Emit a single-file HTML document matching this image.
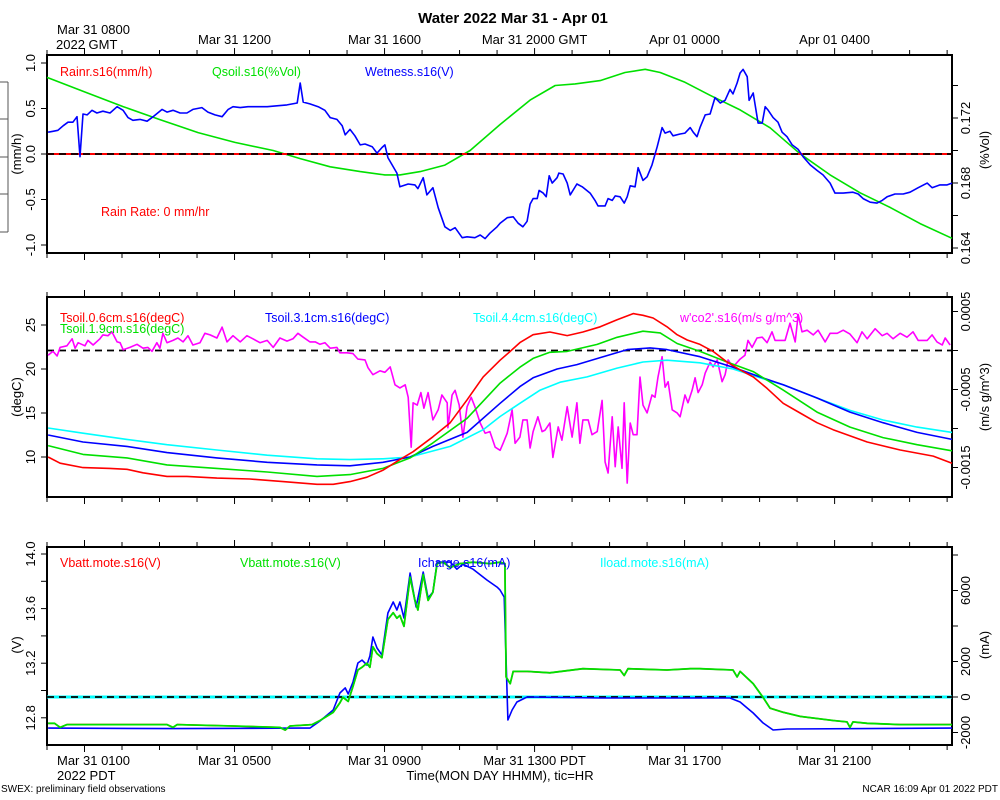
<!DOCTYPE html>
<html><head><meta charset="utf-8"><title>Water 2022 Mar 31 - Apr 01</title>
<style>
html,body{margin:0;padding:0;background:#fff;}
svg{display:block;font-family:"Liberation Sans",sans-serif;}
</style></head>
<body>
<svg id="chart" width="1000" height="800" viewBox="0 0 1000 800" xmlns="http://www.w3.org/2000/svg"></svg>
<script>
// ---------- time axis ----------
const tickHours = [1,5,9,13,17,21];
const topTickLabels = ["Mar 31 0800","Mar 31 1200","Mar 31 1600","Mar 31 2000 GMT","Apr 01 0000","Apr 01 0400"];
const bottomTickLabels = ["Mar 31 0100","Mar 31 0500","Mar 31 0900","Mar 31 1300 PDT","Mar 31 1700","Mar 31 2100"];
const hourMax = 24.13;

// ---------- panel 1 ----------
const p1LeftTicks = [1.0,0.5,0.0,-0.5,-1.0];
const p1LeftLabels = ["1.0","0.5","0.0","-0.5","-1.0"];
const p1RightTicks = [0.174,0.172,0.170,0.168,0.166,0.164];
const p1RightLabels = ["","0.172","","0.168","","0.164"];
const rainRate = [[0,0],[24.13,0]];
const qsoil = [[0,0.1745],[1.01,0.1736],[2.03,0.1727],[3.01,0.1719],[4.03,0.1711],[5.01,0.1705],[6.03,0.1700],[6.75,0.1695],[7.55,0.1690],[8.35,0.1687],[9.01,0.1685],[9.41,0.1685],[9.95,0.1687],[10.61,0.1691],[11.28,0.1700],[12.08,0.1716],[12.88,0.1731],[13.55,0.1740],[14.08,0.1741],[14.75,0.1743],[15.41,0.1748],[15.95,0.1750],[16.35,0.1748],[17.01,0.1742],[17.68,0.1734],[18.48,0.1725],[19.28,0.1714],[20.08,0.1698],[20.88,0.1685],[21.68,0.1674],[22.48,0.1665],[23.28,0.1655],[24.13,0.1646]];
const wetness = [[0.03,0.24],[0.16,0.25],[0.29,0.26],[0.43,0.31],[0.56,0.35],[0.69,0.35],[0.8,0.41],[0.88,-0.03],[0.96,0.44],[1.07,0.43],[1.2,0.48],[1.33,0.45],[1.49,0.47],[1.68,0.45],[1.87,0.52],[2.03,0.48],[2.16,0.40],[2.29,0.37],[2.48,0.38],[2.67,0.36],[2.83,0.41],[3.07,0.49],[3.2,0.46],[3.36,0.48],[3.55,0.45],[3.73,0.45],[3.89,0.49],[4.13,0.51],[4.29,0.46],[4.48,0.43],[4.67,0.41],[4.83,0.49],[4.96,0.52],[5.15,0.51],[5.36,0.52],[5.6,0.52],[5.87,0.52],[6.13,0.53],[6.4,0.54],[6.67,0.56],[6.75,0.78],[6.83,0.57],[7.01,0.55],[7.23,0.52],[7.41,0.48],[7.55,0.40],[7.73,0.38],[7.87,0.31],[7.95,0.21],[8.08,0.27],[8.21,0.20],[8.35,0.10],[8.48,0.11],[8.67,0.08],[8.8,0.01],[8.93,0.07],[9.01,0.10],[9.09,-0.04],[9.33,-0.21],[9.41,-0.36],[9.63,-0.33],[9.81,-0.34],[9.89,-0.38],[10.03,-0.26],[10.13,-0.45],[10.29,-0.37],[10.43,-0.59],[10.61,-0.80],[10.75,-0.84],[10.88,-0.81],[11.07,-0.92],[11.2,-0.91],[11.41,-0.92],[11.55,-0.89],[11.68,-0.93],[11.81,-0.87],[12.0,-0.80],[12.08,-0.76],[12.27,-0.70],[12.43,-0.69],[12.56,-0.76],[12.69,-0.80],[12.8,-0.74],[12.88,-0.55],[12.96,-0.49],[13.07,-0.49],[13.12,-0.40],[13.23,-0.43],[13.31,-0.47],[13.39,-0.24],[13.47,-0.32],[13.6,-0.26],[13.65,-0.21],[13.76,-0.22],[13.87,-0.32],[13.95,-0.45],[14.13,-0.33],[14.27,-0.36],[14.48,-0.43],[14.61,-0.51],[14.69,-0.57],[14.88,-0.57],[14.96,-0.49],[15.07,-0.51],[15.15,-0.46],[15.28,-0.47],[15.39,-0.54],[15.47,-0.47],[15.55,-0.35],[15.68,-0.36],[15.76,-0.15],[15.89,-0.29],[16.0,-0.25],[16.13,-0.12],[16.27,0.08],[16.4,0.29],[16.48,0.23],[16.61,0.25],[16.69,0.20],[16.88,0.22],[17.01,0.23],[17.15,0.29],[17.23,0.24],[17.33,0.19],[17.41,0.29],[17.55,0.43],[17.68,0.44],[17.81,0.62],[17.95,0.56],[18.08,0.59],[18.21,0.71],[18.29,0.66],[18.4,0.78],[18.48,0.89],[18.56,0.93],[18.67,0.85],[18.72,0.59],[18.83,0.67],[18.96,0.34],[19.07,0.34],[19.15,0.52],[19.23,0.48],[19.36,0.40],[19.49,0.35],[19.6,0.24],[19.73,0.19],[19.87,0.10],[20.03,0.05],[20.16,-0.03],[20.35,-0.12],[20.53,-0.18],[20.69,-0.23],[20.88,-0.32],[21.01,-0.43],[21.23,-0.43],[21.49,-0.42],[21.63,-0.44],[21.76,-0.49],[21.95,-0.53],[22.13,-0.54],[22.27,-0.51],[22.4,-0.47],[22.61,-0.44],[22.83,-0.44],[23.01,-0.42],[23.23,-0.37],[23.47,-0.32],[23.6,-0.37],[23.81,-0.34],[24.0,-0.34],[24.13,-0.32]];

// ---------- panel 2 ----------
const p2LeftTicks = [25,20,15,10];
const p2LeftLabels = ["25","20","15","10"];
const p2RightTicks = [0.0005,0,-0.0005,-0.001,-0.0015];
const p2RightLabels = ["0.0005","","-0.0005","","-0.0015"];
const tsoil06 = [[0.03,10.0],[0.35,9.3],[0.96,8.8],[1.68,8.7],[2.13,8.6],[2.56,8.2],[3.2,7.8],[3.73,7.8],[4.53,7.6],[5.41,7.5],[6.29,7.2],[7.2,6.9],[7.63,6.9],[8.08,7.2],[8.53,7.7],[8.96,8.5],[9.41,9.7],[9.76,10.6],[10.29,12.3],[10.75,13.9],[11.2,16.5],[11.63,19.1],[12.08,21.0],[12.35,22.0],[12.61,23.0],[12.96,23.9],[13.41,24.2],[13.87,23.8],[14.29,24.2],[14.75,24.8],[15.2,25.6],[15.63,26.3],[15.89,26.1],[16.16,25.8],[16.53,24.8],[16.8,23.9],[17.07,23.3],[17.41,22.8],[17.76,22.0],[18.13,20.8],[18.48,19.9],[18.83,19.1],[19.2,17.8],[19.63,16.1],[20.08,15.0],[20.53,13.9],[20.96,13.1],[21.87,11.7],[22.75,10.8],[23.63,10.1],[24.13,9.3]];
const tsoil19 = [[0.03,11.3],[0.96,10.3],[2.13,9.9],[3.2,9.1],[4.53,8.7],[5.87,8.3],[7.2,7.8],[8.08,8.0],[8.96,8.7],[9.68,9.9],[10.29,11.6],[11.2,14.4],[12.08,18.4],[12.61,20.2],[12.96,21.2],[13.41,21.9],[13.87,22.0],[14.67,22.8],[15.2,23.6],[15.89,24.3],[16.35,24.1],[16.8,22.9],[17.41,22.0],[18.13,20.8],[18.83,19.7],[19.63,17.6],[20.53,15.1],[21.41,13.4],[22.29,12.2],[23.2,11.4],[24.13,10.7]];
const tsoil31 = [[0.03,12.5],[0.96,11.7],[2.13,11.2],[3.2,10.5],[4.53,9.9],[5.87,9.4],[7.2,9.1],[8.08,9.0],[8.96,9.4],[9.68,10.0],[10.29,11.2],[11.2,12.8],[12.08,16.1],[12.61,18.0],[12.96,19.0],[13.6,20.0],[14.13,20.5],[14.75,21.3],[15.47,22.2],[16.08,22.4],[16.53,22.2],[17.41,21.4],[18.29,20.2],[19.01,19.1],[19.63,18.2],[20.53,16.7],[21.41,15.1],[22.29,13.9],[23.2,12.8],[24.13,12.0]];
const tsoil44 = [[0.03,13.3],[0.96,12.7],[2.13,12.0],[3.2,11.4],[4.53,10.8],[5.87,10.2],[7.2,9.8],[8.08,9.7],[8.96,9.8],[9.68,10.0],[10.75,11.2],[11.63,13.1],[12.08,14.6],[12.61,16.1],[13.15,17.6],[13.68,18.5],[14.4,19.1],[15.2,20.1],[15.89,20.8],[16.53,21.0],[17.41,20.7],[18.29,20.0],[19.01,19.0],[19.63,18.2],[20.53,16.7],[21.41,15.3],[22.29,14.2],[23.2,13.4],[24.13,12.8]];
// w'co2' values in units of 1e-4 m/s g/m^3
const co2e4 = [[0.03,-0.6],[0.16,-0.1],[0.27,-0.7],[0.35,0.4],[0.53,0.6],[0.67,1.5],[0.75,0.3],[0.83,1.0],[1.01,0.6],[1.09,1.3],[1.23,0.7],[1.41,1.5],[1.49,2.0],[1.63,1.9],[1.73,2.4],[1.87,1.1],[1.95,1.0],[2.03,0.1],[2.21,0.4],[2.4,0.8],[2.56,0.3],[2.69,0.4],[2.8,-0.1],[2.93,1.0],[3.01,0.3],[3.09,2.2],[3.2,1.0],[3.36,1.3],[3.49,1.6],[3.63,1.1],[3.76,1.9],[3.89,0.7],[4.08,1.0],[4.21,2.2],[4.35,2.0],[4.53,1.6],[4.67,3.0],[4.8,1.1],[4.96,1.9],[5.15,1.1],[5.33,1.9],[5.49,1.5],[5.68,1.0],[5.87,1.3],[6.03,0.4],[6.21,1.6],[6.4,1.2],[6.56,1.5],[6.69,2.2],[6.83,1.7],[7.01,1.1],[7.15,1.1],[7.28,0.8],[7.41,1.0],[7.55,0.3],[7.73,0.4],[7.81,-0.3],[8.0,-0.3],[8.16,-0.4],[8.29,-1.1],[8.48,-1.2],[8.56,-2.2],[8.69,-3.1],[8.88,-2.6],[9.01,-2.8],[9.15,-2.1],[9.28,-4.4],[9.41,-4.8],[9.55,-4.4],[9.63,-6.0],[9.71,-12.4],[9.76,-6.7],[9.87,-7.0],[9.97,-5.4],[10.05,-7.4],[10.16,-5.4],[10.29,-8.9],[10.43,-7.6],[10.53,-5.7],[10.67,-6.7],[10.69,-9.9],[10.8,-5.7],[10.88,-5.1],[10.99,-7.0],[11.09,-11.1],[11.2,-7.2],[11.31,-6.0],[11.41,-7.2],[11.55,-9.3],[11.68,-10.6],[11.81,-10.4],[11.95,-12.4],[12.08,-12.8],[12.16,-11.9],[12.27,-10.6],[12.4,-7.6],[12.48,-11.9],[12.61,-11.1],[12.69,-8.9],[12.8,-8.9],[12.88,-12.5],[12.96,-10.4],[13.09,-8.5],[13.2,-10.4],[13.28,-10.2],[13.41,-9.3],[13.49,-13.7],[13.63,-9.8],[13.73,-11.5],[13.87,-7.2],[14.0,-11.1],[14.13,-6.7],[14.21,-11.9],[14.29,-8.9],[14.43,-8.9],[14.53,-10.8],[14.67,-10.4],[14.8,-6.4],[14.88,-14.3],[14.96,-15.7],[15.07,-8.5],[15.15,-14.9],[15.23,-9.8],[15.33,-15.1],[15.39,-6.7],[15.47,-17.0],[15.55,-9.3],[15.63,-10.8],[15.73,-10.8],[15.81,-3.4],[15.89,-7.0],[16.0,-8.0],[16.13,-5.7],[16.21,-6.0],[16.29,-3.4],[16.4,-0.8],[16.48,-4.7],[16.56,-4.0],[16.67,-7.6],[16.8,-8.0],[16.88,-8.5],[17.01,-5.7],[17.09,-6.7],[17.2,-5.1],[17.28,-3.5],[17.36,-5.4],[17.47,-4.4],[17.55,-2.9],[17.68,-1.5],[17.76,-2.1],[17.87,-1.2],[18.0,-4.0],[18.08,-3.1],[18.16,-1.2],[18.29,-2.1],[18.48,-1.1],[18.61,-0.6],[18.69,1.3],[18.8,0.4],[18.93,1.6],[19.07,1.7],[19.2,1.0],[19.33,2.4],[19.41,1.3],[19.55,1.3],[19.68,1.3],[19.81,3.5],[19.95,1.1],[20.03,4.6],[20.13,2.4],[20.27,2.6],[20.43,2.0],[20.56,2.6],[20.75,1.1],[20.88,2.2],[21.07,2.2],[21.23,2.6],[21.41,2.1],[21.6,1.0],[21.73,2.4],[21.87,1.5],[22.08,2.8],[22.27,1.9],[22.4,2.2],[22.56,1.5],[22.75,2.2],[22.93,1.7],[23.09,2.4],[23.23,1.3],[23.47,1.3],[23.6,2.0],[23.73,1.1],[23.87,0.7],[23.95,1.6],[24.08,0.7]];

// ---------- panel 3 ----------
const p3LeftTicks = [14.0,13.8,13.6,13.4,13.2,13.0,12.8];
const p3LeftLabels = ["14.0","","13.6","","13.2","","12.8"];
const p3RightTicks = [8000,6000,4000,2000,0,-2000];
const p3RightLabels = ["","6000","","2000","0","-2000"];
const iload = [[0,0],[24.13,0]];
const vbatt = [[0.03,12.76],[0.2,12.76],[0.35,12.73],[0.53,12.75],[1.41,12.75],[3.2,12.75],[3.36,12.73],[3.47,12.75],[4.96,12.74],[6.21,12.73],[6.35,12.71],[6.48,12.74],[7.07,12.75],[7.28,12.78],[7.63,12.84],[7.81,12.91],[7.89,12.95],[8.03,12.92],[8.16,13.03],[8.29,13.15],[8.4,13.17],[8.53,13.20],[8.61,13.17],[8.69,13.32],[8.8,13.27],[8.93,13.24],[9.09,13.52],[9.23,13.57],[9.33,13.53],[9.41,13.55],[9.52,13.47],[9.68,13.83],[9.81,13.66],[9.89,13.59],[10.03,13.85],[10.16,13.66],[10.29,13.72],[10.4,13.93],[10.56,13.94],[10.75,13.90],[11.01,13.93],[11.36,13.94],[11.81,13.93],[12.08,13.94],[12.21,13.93],[12.24,13.10],[12.35,13.05],[12.43,13.14],[12.8,13.14],[13.41,13.13],[14.29,13.16],[15.28,13.15],[15.39,13.11],[15.49,13.16],[16.53,13.15],[17.15,13.16],[17.41,13.16],[18.29,13.15],[18.4,13.10],[18.48,13.14],[18.83,13.05],[19.09,12.95],[19.28,12.87],[19.63,12.84],[20.08,12.81],[20.96,12.78],[21.33,12.77],[21.41,12.73],[21.49,12.77],[21.87,12.76],[22.75,12.75],[24.13,12.75]];
const icharge = [[0.03,-1750],[3.36,-1780],[6.75,-1750],[7.01,-1750],[7.28,-1350],[7.63,-730],[7.81,225],[7.95,510],[8.03,170],[8.16,845],[8.29,1915],[8.4,2080],[8.53,1800],[8.61,2310],[8.69,3380],[8.8,2760],[8.93,2365],[9.09,4730],[9.23,5350],[9.33,4900],[9.41,5350],[9.52,4450],[9.68,6980],[9.84,5070],[10.03,7040],[10.16,5575],[10.29,5910],[10.4,7600],[10.75,7600],[10.93,7200],[11.09,7490],[11.36,7200],[11.73,6590],[12.0,6190],[12.08,6020],[12.19,5630],[12.27,0],[12.29,-1295],[12.4,-730],[12.53,-280],[12.8,0],[14.75,-56],[18.21,-56],[18.48,-280],[18.67,-620],[18.83,-900],[19.09,-1460],[19.36,-1860],[19.73,-1800],[24.13,-1750]];

// ---------- geometry ----------
const L = 47, R = 952;
const X = h => L + h * (R - L) / hourMax;
const P1 = {top:55, bot:253, yL:v=>154-91*v, yR:q=>183-(q-0.168)*16250};
const P2 = {top:297, bot:497, yL:t=>457-(t-10)*8.8, yR:c=>350.5-c*78000};
const P3 = {top:547, bot:745, yL:v=>554+(14-v)*136.5, yR:m=>697-m*0.01775};

const svg = document.getElementById('chart');
const NS = 'http://www.w3.org/2000/svg';
function mk(tag, attrs, parent){
  const e = document.createElementNS(NS, tag);
  for (const k in attrs) e.setAttribute(k, attrs[k]);
  (parent||svg).appendChild(e);
  return e;
}
function txt(s, x, y, size, color, anchor, rot, parent){
  const t = mk('text', {x:x, y:y, 'font-size':size, fill:color, 'text-anchor':anchor||'start'}, parent);
  if (rot) t.setAttribute('transform', 'rotate(-90 '+x+' '+y+')');
  t.textContent = s;
  return t;
}
function line(pts, yf, color, width, dash, parent){
  const d = pts.map((p,i)=>(i?'L':'M')+X(p[0]).toFixed(1)+' '+yf(p[1]).toFixed(1)).join(' ');
  const e = mk('path', {d:d, fill:'none', stroke:color, 'stroke-width':width||1.6, 'stroke-linejoin':'round'}, parent);
  if (dash) e.setAttribute('stroke-dasharray', dash);
  return e;
}
function zeroDash(y, parent){
  const e = mk('line', {x1:L, x2:R, y1:y, y2:y, stroke:'#000', 'stroke-width':1.8, 'stroke-dasharray':'7,5'}, parent);
  
  
}
function panelFrame(P, name){
  const g = mk('g', {});
  
  
  for (let h = 0; h <= 24; h++){
    const x = X(h), major = tickHours.indexOf(h) >= 0;
    const t1 = mk('line', {x1:x, x2:x, y1:P.top-(major?7:5), y2:P.top, stroke:'#000', 'stroke-width':1}, g);
    
    
    const t2 = mk('line', {x1:x, x2:x, y1:P.bot, y2:P.bot+(major?7:5), stroke:'#000', 'stroke-width':1}, g);
    
    
  }
  const fr = mk('rect', {x:L, y:P.top, width:R-L, height:P.bot-P.top, fill:'none', stroke:'#000', 'stroke-width':2}, g);
  
  
  return g;
}
function yAxis(P, ticks, labels, yf, side, g){
  ticks.forEach((v,i)=>{
    const y = yf(v);
    const x1 = side==='left' ? L-6 : R, x2 = side==='left' ? L : R+6;
    const tk = mk('line', {x1:x1, x2:x2, y1:y, y2:y, stroke:'#000', 'stroke-width':1}, g);
    
    
    if (labels[i]){
      const lx = side==='left' ? L-12 : R+18;
      const t = txt(labels[i], lx, y, 13, '#000', 'middle', true, g);
      
      
    }
  });
}

// title
const title = txt('Water 2022 Mar 31 - Apr 01', 513, 23, 15, '#000', 'middle');
title.setAttribute('font-weight', 'bold');



// top time labels
tickHours.forEach((h,i)=>{
  let t;
  if (i===0) t = txt(topTickLabels[i], 57, 34, 13, '#000', 'start');
  else t = txt(topTickLabels[i], X(h), 44, 13, '#000', 'middle');
  
  
});
const gmt = txt('2022 GMT', 56, 49, 13, '#000', 'start');



// left bracket decoration
const br = mk('path', {d:'M8 82 V232 M0 82 H8 M0 119 H8 M0 157 H8 M0 194 H8 M0 232 H8', stroke:'#555', 'stroke-width':1, fill:'none'});



// ---------- Panel 1 ----------
const g1 = panelFrame(P1, 'water-panel');
yAxis(P1, p1LeftTicks, p1LeftLabels, P1.yL, 'left', g1);
yAxis(P1, p1RightTicks, p1RightLabels, P1.yR, 'right', g1);
let s;
s = line(qsoil, P1.yR, '#00e000', 1.6, null, g1);


s = line(rainRate, P1.yL, '#ff0000', 2, null, g1);


zeroDash(P1.yL(0), g1);
s = line(wetness, P1.yL, '#0000ff', 1.6, null, g1);


let t;
t = txt('Rainr.s16(mm/h)', 60, 76, 12.5, '#ff0000');  
t = txt('Qsoil.s16(%Vol)', 212, 76, 12.5, '#00e000');  
t = txt('Wetness.s16(V)', 365, 76, 12.5, '#0000ff');  
t = txt('Rain Rate: 0 mm/hr', 101, 216, 12.5, '#ff0000');  
t = txt('(mm/h)', 21, 154, 13, '#000', 'middle', true);  
t = txt('(%Vol)', 989, 150, 13, '#000', 'middle', true);  

// ---------- Panel 2 ----------
const g2 = panelFrame(P2, 'soil-temp-panel');
yAxis(P2, p2LeftTicks, p2LeftLabels, P2.yL, 'left', g2);
yAxis(P2, p2RightTicks, p2RightLabels, P2.yR, 'right', g2);
zeroDash(P2.yR(0), g2);
s = line(co2e4.map(p=>[p[0], p[1]*1e-4]), P2.yR, '#ff00ff', 1.6, null, g2);


s = line(tsoil44, P2.yL, '#00ffff', 1.6, null, g2);


s = line(tsoil31, P2.yL, '#0000ff', 1.6, null, g2);


s = line(tsoil19, P2.yL, '#00e000', 1.6, null, g2);


s = line(tsoil06, P2.yL, '#ff0000', 1.6, null, g2);


t = txt('Tsoil.0.6cm.s16(degC)', 60, 322, 12.5, '#ff0000');  
t = txt('Tsoil.1.9cm.s16(degC)', 60, 333, 12.5, '#00e000');  
t = txt('Tsoil.3.1cm.s16(degC)', 265, 322, 12.5, '#0000ff');  
t = txt('Tsoil.4.4cm.s16(degC)', 473, 322, 12.5, '#00ffff');  
t = txt("w'co2'.s16(m/s g/m^3)", 680, 322, 12.5, '#ff00ff');  
t = txt('(degC)', 21, 397, 13, '#000', 'middle', true);  
t = txt('(m/s g/m^3)', 989, 397, 13, '#000', 'middle', true);  

// ---------- Panel 3 ----------
const g3 = panelFrame(P3, 'power-panel');
yAxis(P3, p3LeftTicks, p3LeftLabels, P3.yL, 'left', g3);
yAxis(P3, p3RightTicks, p3RightLabels, P3.yR, 'right', g3);
s = line(iload, P3.yR, '#00ffff', 3, null, g3);


zeroDash(P3.yR(0), g3);
s = line(vbatt, P3.yL, '#ff0000', 1.6, null, g3);


s = line(icharge, P3.yR, '#0000ff', 1.6, null, g3);


s = line(vbatt, P3.yL, '#00e000', 1.8, null, g3);


t = txt('Vbatt.mote.s16(V)', 60, 567, 12.5, '#ff0000');  
t = txt('Vbatt.mote.s16(V)', 240, 567, 12.5, '#00e000');  
t = txt('Icharge.s16(mA)', 418, 567, 12.5, '#0000ff');  
t = txt('Iload.mote.s16(mA)', 600, 567, 12.5, '#00ffff');  
t = txt('(V)', 21, 645, 13, '#000', 'middle', true);  
t = txt('(mA)', 989, 645, 13, '#000', 'middle', true);  

// bottom time labels
tickHours.forEach((h,i)=>{
  let bt;
  if (i===0) bt = txt(bottomTickLabels[i], 57, 765, 13, '#000', 'start');
  else bt = txt(bottomTickLabels[i], X(h), 765, 13, '#000', 'middle');
  
  
});
t = txt('2022 PDT', 57, 780, 13, '#000');  
t = txt('Time(MON DAY HHMM), tic=HR', 500, 780, 13, '#000', 'middle');  
t = txt('SWEX: preliminary field observations', 1, 792, 10, '#000');  
t = txt('NCAR 16:09 Apr 01 2022 PDT', 998, 792, 10, '#000', 'end');  
</script>
</body></html>
